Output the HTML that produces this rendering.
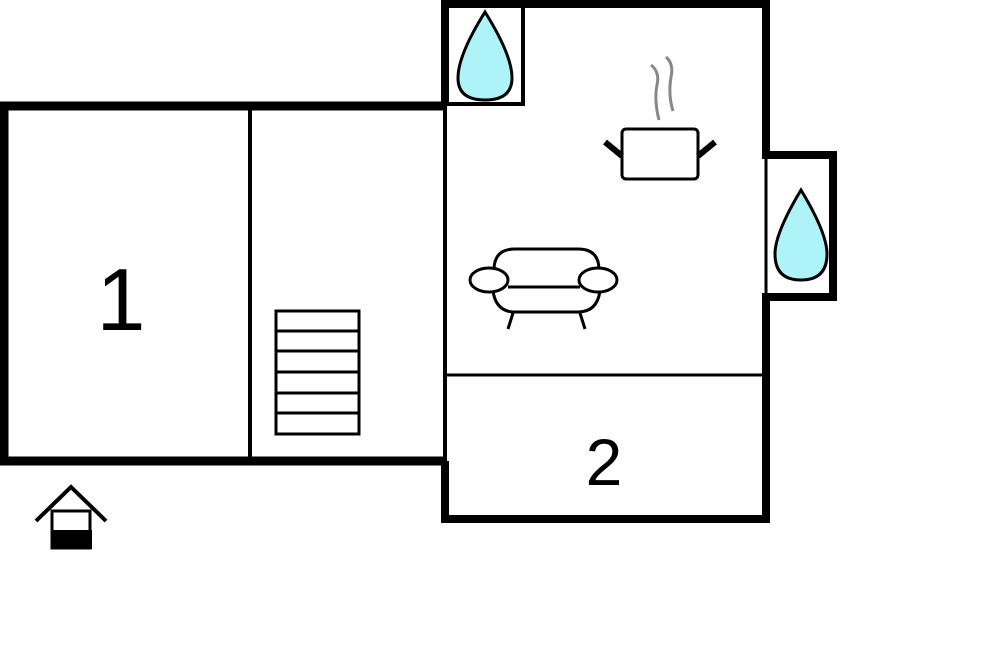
<!DOCTYPE html>
<html><head><style>body{margin:0;background:#fff}svg{display:block}</style></head><body>
<svg width="1000" height="666" viewBox="0 0 1000 666" xmlns="http://www.w3.org/2000/svg">
<rect width="1000" height="666" fill="#fff"/>
<g fill="none" stroke="#000">
<path d="M445 106 H4 V461 H445" stroke-width="9"/>
<line x1="250" y1="108" x2="250" y2="460" stroke-width="4"/>
<path d="M445 106 V4 H766 V155 H833 V297 H766 V519 H445 V461" stroke-width="8"/>
<line x1="766" y1="155" x2="766" y2="297" stroke-width="3"/>
<line x1="445" y1="106" x2="445" y2="461" stroke-width="4"/>
<line x1="447" y1="375" x2="764" y2="375" stroke-width="3"/>
<path d="M448 104 H523 V8" stroke-width="4"/>
<rect x="276" y="311" width="83" height="123" stroke-width="3"/>
<path d="M276 331H359M276 351H359M276 372H359M276 393H359M276 413H359" stroke-width="3"/>
<g stroke-width="3">
<path d="M494 270 Q494 249 515 249 H578 Q599 249 599 270"/>
<ellipse cx="489" cy="280" rx="19" ry="12" fill="#fff"/>
<ellipse cx="598" cy="280" rx="19" ry="12" fill="#fff"/>
<line x1="508" y1="287" x2="580" y2="287"/>
<path d="M493 291 Q496 312 515 312 H578 Q597 312 600 291"/>
<line x1="513" y1="313" x2="508" y2="329"/><line x1="580" y1="313" x2="585" y2="329"/>
</g>
<rect x="622" y="129" width="76" height="50" rx="4" stroke-width="3"/>
<line x1="605" y1="142" x2="622" y2="156" stroke-width="6"/>
<line x1="715" y1="142" x2="698" y2="156" stroke-width="6"/>
<path d="M651 65 Q660 72 657 85 Q654 100 659 120" stroke="#888" stroke-width="3"/>
<path d="M666 57 Q674 64 671 77 Q668 95 673 111" stroke="#888" stroke-width="3"/>
<path d="M485 12 Q458 55 458 78 Q458 100 485 100 Q512 100 512 78 Q512 55 485 12 Z" fill="#aef3f7" stroke-width="3"/>
<path d="M801 190 Q775 233 775 254 Q775 280 801 280 Q827 280 827 254 Q827 233 801 190 Z" fill="#aef3f7" stroke-width="3"/>
<path d="M36 521 L71 487 L106 521" stroke-width="4"/>
<rect x="52" y="511" width="38" height="37" stroke-width="3"/>
</g>
<rect x="51" y="530" width="41" height="19" fill="#000"/>
<text x="121" y="330" font-family="Liberation Sans, sans-serif" font-size="88" text-anchor="middle">1</text>
<text x="604" y="485" font-family="Liberation Sans, sans-serif" font-size="66" text-anchor="middle">2</text>
</svg>
</body></html>
